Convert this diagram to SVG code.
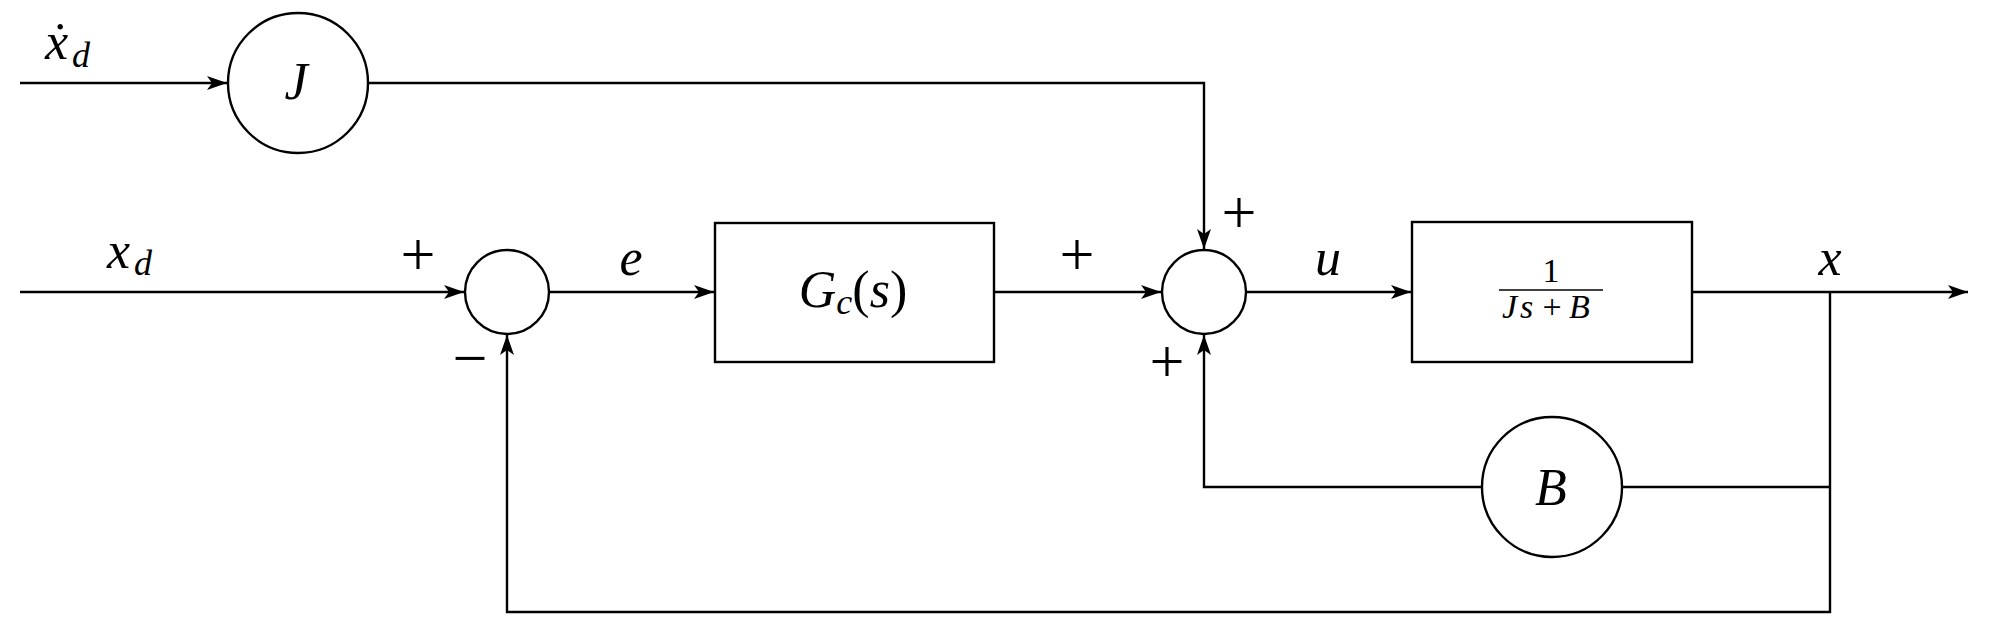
<svg xmlns="http://www.w3.org/2000/svg" width="1996" height="624" viewBox="0 0 1996 624">
<style>
.ln{fill:none;stroke:#000;stroke-width:2.4}
.nd{fill:#fff;stroke:#000;stroke-width:2.4}
.m{font-family:"Liberation Serif";font-style:italic;font-size:52px;fill:#000}
.sub{font-family:"Liberation Serif";font-style:italic;font-size:36px;fill:#000}
.op{font-family:"Liberation Serif";font-size:62px;fill:#000;text-anchor:middle}
.fr{font-family:"Liberation Serif";font-size:34px;fill:#000}
</style>
<defs>
<marker id="ah" markerUnits="userSpaceOnUse" markerWidth="24" markerHeight="18" viewBox="-21 -9 24 18" refX="0" refY="0" orient="auto">
<path d="M0,0 L-20,-7 L-15,0 L-20,7 Z" fill="#000"/>
</marker>
</defs>
<rect width="1996" height="624" fill="#fff"/>
<g id="connectors">
<path class="ln" d="M20,83 L227,83" marker-end="url(#ah)"/>
<path class="ln" d="M368,83 L1204,83 L1204,249" marker-end="url(#ah)"/>
<path class="ln" d="M20,292 L464,292" marker-end="url(#ah)"/>
<path class="ln" d="M549,292 L714,292" marker-end="url(#ah)"/>
<path class="ln" d="M994,292 L1161,292" marker-end="url(#ah)"/>
<path class="ln" d="M1246,292 L1411,292" marker-end="url(#ah)"/>
<path class="ln" d="M1692,292 L1968,292" marker-end="url(#ah)"/>
<path class="ln" d="M1830,292 L1830,612 L507,612 L507,335" marker-end="url(#ah)"/>
<path class="ln" d="M1830,487 L1622,487"/>
<path class="ln" d="M1482,487 L1204,487 L1204,335" marker-end="url(#ah)"/>
</g>
<g id="J">
<circle class="nd" cx="298" cy="83" r="70"/>
<text class="m" x="296" y="99" text-anchor="middle">J</text>
</g>
<g id="sum1">
<circle class="nd" cx="507" cy="292" r="42"/>
</g>
<g id="Gc">
<rect class="nd" x="715" y="223" width="279" height="139"/>
<text class="m" x="853" y="307" text-anchor="middle">G<tspan class="sub" dy="7">c</tspan><tspan font-style="normal" dy="-7">(</tspan>s<tspan font-style="normal">)</tspan></text>
</g>
<g id="sum2">
<circle class="nd" cx="1204" cy="292" r="42"/>
</g>
<g id="plant">
<rect class="nd" x="1412" y="222" width="280" height="140"/>
<text class="fr" x="1551" y="282" text-anchor="middle">1</text>
<line x1="1499" y1="290" x2="1603" y2="290" stroke="#000" stroke-width="1.6"/>
<text class="fr" y="318"><tspan x="1502" font-style="italic">J</tspan><tspan x="1520" font-style="italic">s</tspan><tspan x="1552" text-anchor="middle">+</tspan><tspan x="1569" font-style="italic">B</tspan></text>
</g>
<g id="B">
<circle class="nd" cx="1552" cy="487" r="70"/>
<text class="m" x="1551" y="505" text-anchor="middle">B</text>
</g>
<g id="labels">
<text class="m" x="45" y="59">ẋ</text><text class="sub" x="72" y="67">d</text>
<text class="m" x="107" y="268">x</text><text class="sub" x="134" y="275">d</text>
<text class="m" x="631" y="275" text-anchor="middle">e</text>
<text class="m" x="1328" y="275" text-anchor="middle">u</text>
<text class="m" x="1830" y="275" text-anchor="middle">x</text>
<text class="op" x="418" y="275">+</text>
<text class="op" x="470" y="379">−</text>
<text class="op" x="1077" y="275">+</text>
<text class="op" x="1239" y="233">+</text>
<text class="op" x="1167" y="382">+</text>
</g>
</svg>
